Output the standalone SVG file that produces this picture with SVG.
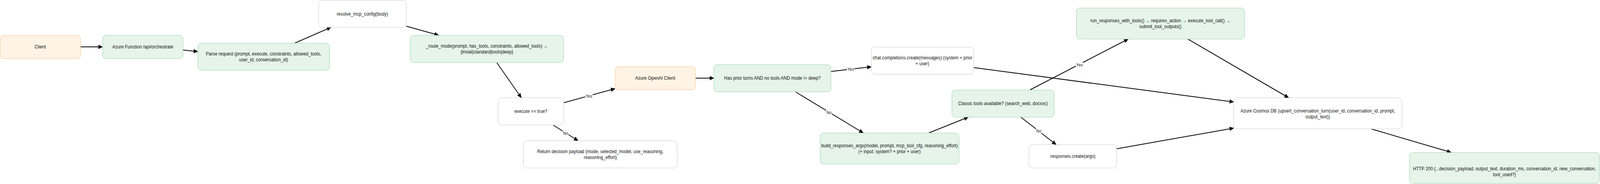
<svg xmlns="http://www.w3.org/2000/svg" width="4371" height="471" viewBox="0 0 4371 471">
<defs>
<style>
.n rect{stroke-width:1}
.g rect{fill:#e6f4ea;stroke:#97d3a8}
.o rect{fill:#fef3e4;stroke:#f6c38d}
.w rect{fill:#ffffff;stroke:#c9c9c9}
text{font-family:"Liberation Sans",Arial,sans-serif;font-size:12px;fill:#111111;text-anchor:middle}
.c line{stroke:#000000;stroke-width:2;marker-end:url(#ah)}
.lb rect{fill:#ffffff;stroke:none}
.lb text{font-size:11px}
</style>
<marker id="ah" markerUnits="userSpaceOnUse" markerWidth="12" markerHeight="11" refX="11" refY="5.5" orient="auto" viewBox="0 0 12 11">
<path d="M0,0 L12,5.5 L0,11 Z" fill="#000000"/>
</marker>
</defs>
<rect width="4371" height="471" fill="#ffffff"/>
<g id="diagram" transform="scale(0.937085,1)">

<g class="c" id="connectors">
<line x1="220" y1="120" x2="280" y2="120"/>
<line x1="500" y1="128" x2="540" y2="132"/>
<line x1="806" y1="110" x2="904" y2="70"/>
<line x1="1110" y1="67" x2="1198" y2="90"/>
<line x1="1357" y1="160" x2="1424" y2="250"/>
<line x1="1540" y1="263" x2="1680" y2="227"/>
<line x1="1511" y1="320" x2="1579" y2="360"/>
<line x1="1900" y1="200" x2="1950" y2="200"/>
<line x1="2270" y1="183" x2="2380" y2="171"/>
<line x1="2173" y1="235" x2="2358" y2="340"/>
<line x1="2538" y1="340" x2="2645" y2="300"/>
<line x1="2814" y1="230" x2="3082" y2="100"/>
<line x1="2789" y1="300" x2="2885" y2="370"/>
<line x1="2660" y1="173" x2="3370" y2="261"/>
<line x1="3245" y1="100" x2="3520" y2="250"/>
<line x1="3050" y1="381" x2="3370" y2="328"/>
<line x1="3746" y1="330" x2="3964" y2="390"/>
</g>

<g class="lb" id="edge-labels">
<rect x="1599" y="239" width="20" height="13"/><text x="1609" y="250">Yes</text>
<rect x="1537" y="334" width="16" height="13"/><text x="1545" y="345">No</text>
<rect x="2314" y="170" width="20" height="13"/><text x="2324" y="181">Yes</text>
<rect x="2257" y="281" width="16" height="13"/><text x="2265" y="292">No</text>
<rect x="2939" y="160" width="20" height="13"/><text x="2949" y="170.5">Yes</text>
<rect x="2830" y="328" width="16" height="13"/><text x="2838" y="339">No</text>
</g>

<g id="client" class="n o"><rect x="0.5" y="90.5" width="219.5" height="59.5" rx="9"/><text x="110" y="124">Client</text></g>
<g id="azure_function" class="n g"><rect x="280.5" y="90.5" width="219.5" height="59.5" rx="9"/><text x="390" y="124">Azure Function /api/orchestrate</text></g>
<g id="parse_request" class="n g"><rect x="540.5" y="110.5" width="359.5" height="69.5" rx="9"/><text x="720" y="142">Parse request (prompt, execute, constraints, allowed_tools,</text><text x="720" y="157">user_id, conversation_id)</text></g>
<g id="resolve_mcp_config" class="n w"><rect x="870.5" y="0.5" width="239.5" height="69.5" rx="9"/><text x="990" y="40">resolve_mcp_config(body)</text></g>
<g id="route_mode" class="n g"><rect x="1120.5" y="90.5" width="419.5" height="69.5" rx="9"/><text x="1330" y="122">_route_mode(prompt, has_tools, constraints, allowed_tools) →</text><text x="1330" y="137">{trivial|standard|tools|deep}</text></g>
<g id="execute_check" class="n w"><rect x="1360.5" y="250.5" width="179.5" height="69.5" rx="9"/><text x="1450" y="289">execute == true?</text></g>
<g id="return_decision" class="n w"><rect x="1430.5" y="360.5" width="419.5" height="69.5" rx="9"/><text x="1640" y="392">Return decision payload {mode, selected_model, use_reasoning,</text><text x="1640" y="407">reasoning_effort}</text></g>
<g id="azure_openai_client" class="n o"><rect x="1680.5" y="170.5" width="219.5" height="59.5" rx="9"/><text x="1790" y="204">Azure OpenAI Client</text></g>
<g id="has_prior_turns" class="n g"><rect x="1950.5" y="165.5" width="319.5" height="69.5" rx="9"/><text x="2110" y="204">Has prior turns AND no tools AND mode != deep?</text></g>
<g id="chat_completions" class="n w"><rect x="2380.5" y="120.5" width="279.5" height="69.5" rx="9"/><text x="2520" y="152">chat.completions.create(messages) (system + prior</text><text x="2520" y="167">+ user)</text></g>
<g id="build_responses_args" class="n g"><rect x="2240.5" y="340.5" width="379.5" height="79.5" rx="9"/><text x="2430" y="377.5">build_responses_args(model, prompt, mcp_tool_cfg, reasoning_effort)</text><text x="2430" y="392.5">(+ input: system? + prior + user)</text></g>
<g id="classic_tools" class="n g"><rect x="2600.5" y="230.5" width="279.5" height="69.5" rx="9"/><text x="2740" y="269.5">Classic tools available? (search_web, docsvc)</text></g>
<g id="responses_create" class="n w"><rect x="2811" y="370.5" width="239.5" height="59.5" rx="9"/><text x="2931" y="404">responses.create(args)</text></g>
<g id="run_responses_with_tools" class="n g"><rect x="2940.5" y="20.5" width="459.5" height="79.5" rx="9"/><text x="3170" y="57.5">run_responses_with_tools() → requires_action → execute_tool_call() →</text><text x="3170" y="72.5">submit_tool_outputs()</text></g>
<g id="cosmos_db" class="n w"><rect x="3370.5" y="250.5" width="459.5" height="79.5" rx="9"/><text x="3600" y="288">Azure Cosmos DB (upsert_conversation_turn(user_id, conversation_id, prompt,</text><text x="3600" y="303">output_text))</text></g>
<g id="http_200" class="n g"><rect x="3850.5" y="390.5" width="519" height="79" rx="9"/><text x="4110" y="436">HTTP 200 {...decision_payload, output_text, duration_ms, conversation_id, new_conversation,</text><text x="4110" y="451">tool_used?}</text></g>
</g>
</svg>
